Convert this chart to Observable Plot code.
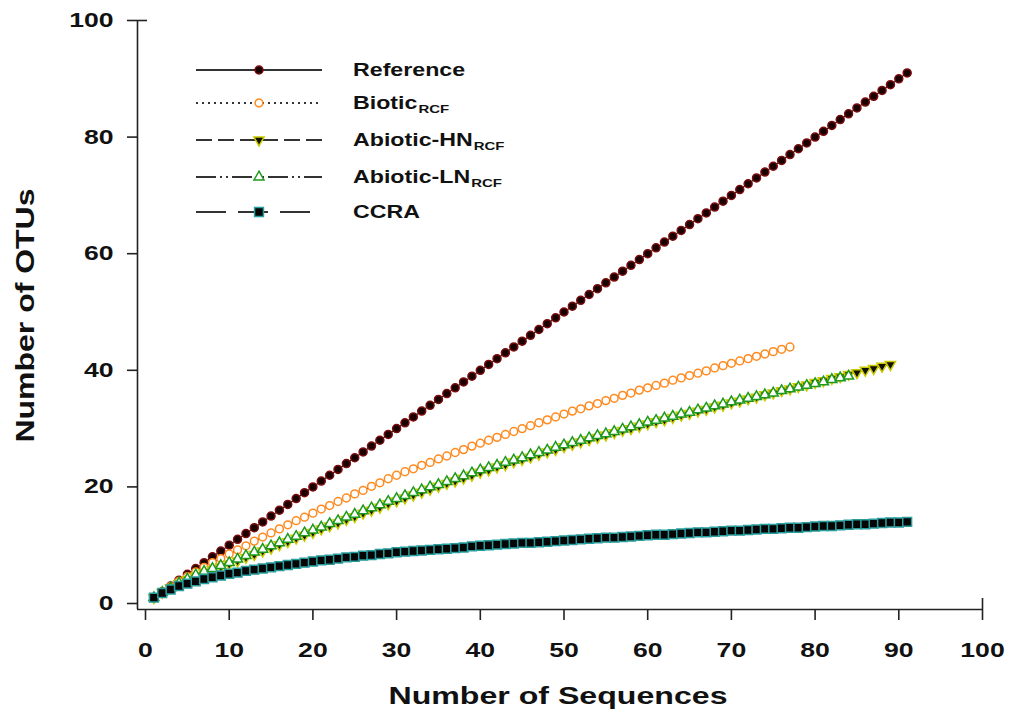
<!DOCTYPE html>
<html><head><meta charset="utf-8">
<script src="https://cdn.jsdelivr.net/npm/d3@7"></script>
<script src="https://cdn.jsdelivr.net/npm/@observablehq/plot@0.6"></script>
<style>body{margin:0;background:#fff} svg{display:block}</style>
</head><body><div id="chart"></div>
<script>
// ---- data ----
const xTicks = [0,10,20,30,40,50,60,70,80,90,100];
const yTicks = [0,20,40,60,80,100];
const xTitle = "Number of Sequences";
const yTitle = "Number of OTUs";
const seriesNames = ["Reference","Biotic","Abiotic-HN","Abiotic-LN","CCRA"];
const seriesSubs  = ["","RCF","RCF","RCF",""];

const reference = [1,2,3,4,5,6,7,8,9,10,11,12,13,14,15,16,17,18,19,20,21,22,23,24,25,26,27,28,29,30,31,32,33,34,35,36,37,38,39,40,41,42,43,44,45,46,47,48,49,50,51,52,53,54,55,56,57,58,59,60,61,62,63,64,65,66,67,68,69,70,71,72,73,74,75,76,77,78,79,80,81,82,83,84,85,86,87,88,89,90,91];
const biotic = [1.0,2.0,2.9,3.8,4.6,5.4,6.2,7.0,7.7,8.5,9.2,9.9,10.7,11.4,12.1,12.8,13.5,14.2,14.8,15.5,16.2,16.8,17.5,18.1,18.8,19.4,20.1,20.7,21.4,22.0,22.6,23.1,23.7,24.2,24.8,25.3,25.9,26.4,27.0,27.5,28.0,28.5,29.0,29.5,30.0,30.5,31.0,31.5,32.0,32.5,33.0,33.4,33.9,34.3,34.8,35.2,35.7,36.1,36.6,37.0,37.4,37.8,38.3,38.7,39.1,39.5,39.9,40.4,40.8,41.2,41.6,42.0,42.4,42.8,43.2,43.6,44.0];
const abioticHN = [1.0,1.9,2.7,3.4,4.1,4.7,5.3,5.8,6.3,6.8,7.3,7.9,8.4,9.0,9.5,10.1,10.6,11.2,11.7,12.2,12.8,13.3,13.8,14.4,14.9,15.5,16.0,16.5,17.1,17.6,18.1,18.6,19.1,19.6,20.1,20.6,21.0,21.5,22.0,22.5,22.9,23.4,23.8,24.3,24.7,25.1,25.6,26.0,26.4,26.9,27.3,27.7,28.1,28.5,28.9,29.3,29.7,30.0,30.4,30.8,31.2,31.5,31.9,32.3,32.6,33.0,33.3,33.7,34.0,34.4,34.7,35.1,35.4,35.8,36.1,36.5,36.8,37.2,37.5,37.9,38.2,38.6,38.9,39.3,39.6,40.0,40.3,40.7,41.0];
const abioticLN = [1.0,1.9,2.7,3.5,4.2,4.9,5.5,6.0,6.5,7.0,7.6,8.2,8.8,9.3,9.9,10.4,11.0,11.5,12.1,12.6,13.1,13.7,14.2,14.8,15.3,15.9,16.4,16.9,17.5,18.0,18.5,19.0,19.5,20.0,20.4,20.9,21.4,21.9,22.4,22.9,23.3,23.7,24.2,24.6,25.0,25.5,25.9,26.3,26.8,27.2,27.6,28.0,28.4,28.8,29.1,29.5,29.9,30.3,30.7,31.1,31.4,31.8,32.1,32.5,32.8,33.2,33.5,33.9,34.2,34.6,34.9,35.2,35.5,35.8,36.1,36.5,36.8,37.1,37.4,37.7,38.0,38.4,38.7,39.0];
const ccra = [1.0,1.8,2.4,3.0,3.4,3.8,4.2,4.5,4.8,5.1,5.3,5.6,5.8,6.0,6.2,6.4,6.6,6.8,7.0,7.2,7.4,7.5,7.7,7.9,8.0,8.2,8.3,8.5,8.6,8.8,8.9,9.0,9.1,9.2,9.3,9.4,9.5,9.6,9.8,9.9,10.0,10.1,10.2,10.3,10.4,10.4,10.5,10.6,10.7,10.8,10.9,11.0,11.1,11.2,11.3,11.3,11.4,11.5,11.6,11.7,11.8,11.8,11.9,12.0,12.1,12.2,12.2,12.3,12.4,12.5,12.5,12.6,12.7,12.8,12.8,12.9,13.0,13.0,13.1,13.2,13.3,13.3,13.4,13.5,13.6,13.6,13.7,13.8,13.9,13.9,14.0];
const seriesValues = [reference, biotic, abioticHN, abioticLN, ccra];

// ---- styles ----
const triDown = {draw(ctx, size) {
  const s3 = Math.sqrt(3), y = -Math.sqrt(size / (s3 * 3));
  ctx.moveTo(0, -y * 2); ctx.lineTo(-s3 * y, y); ctx.lineTo(s3 * y, y); ctx.closePath();
}};
const styles = [
  {symbol: "circle",   d3sym: d3.symbolCircle,   r: 4.0, fill: "#1a0000", stroke: "#7a0d0d", dash: null},
  {symbol: "circle",   d3sym: d3.symbolCircle,   r: 3.9, fill: "white",   stroke: "#ff8a1f", dash: "2,4"},
  {symbol: triDown,    d3sym: triDown,           r: 3.8, fill: "#111100", stroke: "#c9c900", dash: "16,6"},
  {symbol: "triangle", d3sym: d3.symbolTriangle, r: 3.7, fill: "white",   stroke: "#1e9a1e", dash: "20,4,2,4,2,4"},
  {symbol: "square",   d3sym: d3.symbolSquare,   r: 5.0, fill: "#050505", stroke: "#2a9d9d", dash: "30,12"}
];
const FONT = "'Liberation Sans', Arial, Helvetica, sans-serif";

const tables = seriesValues.map((vals, k) => vals.map((v, i) => ({x: i + 1, y: v, series: seriesNames[k]})));

const marks = [];
tables.forEach((t, k) => {
  const s = styles[k];
  marks.push(Plot.line(t, {x: "x", y: "y", stroke: "#222", strokeWidth: 1.2, strokeDasharray: s.dash}));
  marks.push(Plot.dot(t, {x: "x", y: "y", symbol: s.symbol, r: s.r, fill: s.fill, stroke: s.stroke, strokeWidth: 1.5}));
});
// axes
const AX = {stroke: "#222", strokeWidth: 1.6};
marks.push(
  Plot.ruleY([0], {y: d => d, x1: () => 0, x2: () => 100, dy: 6, insetLeft: -8, ...AX}),
  Plot.ruleX([0], {x: d => d, y1: () => 100, y2: () => 0, dx: -8, insetBottom: -6, ...AX}),
  Plot.ruleX(xTicks, {x: d => d, y1: () => 0, y2: () => 0, dy: 6, insetBottom: -11, ...AX}),
  Plot.ruleY(yTicks, {y: d => d, x1: () => 0, x2: () => 0, dx: -8, insetLeft: -10, ...AX}),
  Plot.ruleY([100], {y: d => d, x1: () => 0, x2: () => 0, dx: -8, insetRight: -10, ...AX}),
  Plot.ruleX([100], {x: d => d, y1: () => 0, y2: () => 0, dy: 6, insetTop: -11, ...AX}),
  // text marks (order matters for post-processing below)
  Plot.text(xTicks, {x: d => d, y: () => 0, text: d => String(d), dy: 47, fontSize: 20, fontWeight: "bold", fill: "#111"}),
  Plot.text(yTicks, {x: () => 0, y: d => d, text: d => String(d), dx: -32, textAnchor: "end", fontSize: 20, fontWeight: "bold", fill: "#111"}),
  Plot.text([xTitle], {frameAnchor: "bottom", text: d => d, dy: 100, dx: -6, fontSize: 24, fontWeight: "bold", fill: "#111"}),
  Plot.text([yTitle], {frameAnchor: "left", text: d => d, dx: -120, dy: 3.5, rotate: -90, fontSize: 26, fontWeight: "bold", fill: "#111"})
);

const chart = Plot.plot({
  width: 1011, height: 728,
  marginLeft: 145, marginRight: 29, marginTop: 20, marginBottom: 125,
  x: {domain: [0, 100], axis: null},
  y: {domain: [0, 100], axis: null},
  style: {fontFamily: FONT, background: "white", overflow: "visible"},
  marks
});
document.getElementById("chart").appendChild(chart);

const svg = d3.select(chart);
function stretch(node, factor, target, recenter) {
  d3.select(node).selectAll("text").each(function() {
    const w = this.getComputedTextLength();
    const L = target != null ? target : w * factor;
    this.setAttribute("textLength", L);
    this.setAttribute("lengthAdjust", "spacingAndGlyphs");
    if (recenter) {
      this.setAttribute("text-anchor", "start");
      this.setAttribute("x", -L / 2);
    }
  });
}
const textGroups = svg.selectAll('g[aria-label="text"]').nodes();
stretch(textGroups[0], 1.33);
stretch(textGroups[1], 1.33);
stretch(textGroups[2], 1, 339);
stretch(textGroups[3], 1, 254, true);

// ---- legend ----
const legendRows = [70, 103, 140, 177, 212];
const lg = svg.append("g").attr("font-family", FONT).attr("font-weight", "bold").attr("fill", "#111").attr("text-anchor", "start");
seriesNames.forEach((name, k) => {
  const s = styles[k], y = legendRows[k];
  lg.append("line").attr("x1", 196).attr("x2", 322).attr("y1", y).attr("y2", y)
    .attr("stroke", "#333").attr("stroke-width", 2).attr("stroke-dasharray", s.dash);
  lg.append("path").attr("transform", `translate(259,${y})`)
    .attr("d", d3.symbol(s.d3sym, Math.PI * s.r * s.r)())
    .attr("fill", s.fill).attr("stroke", s.stroke).attr("stroke-width", 1.5);
  const t = lg.append("text").attr("x", 353).attr("y", y + 5.5).attr("font-size", 19).text(name);
  const w = t.node().getComputedTextLength() * 1.22;
  t.attr("textLength", w).attr("lengthAdjust", "spacingAndGlyphs");
  if (seriesSubs[k]) {
    const st = lg.append("text").attr("x", 353 + w + 1).attr("y", y + 10).attr("font-size", 11.5).text(seriesSubs[k]);
    const sw = st.node().getComputedTextLength() * 1.3;
    st.attr("textLength", sw).attr("lengthAdjust", "spacingAndGlyphs");
  }
});
</script>
</body></html>
